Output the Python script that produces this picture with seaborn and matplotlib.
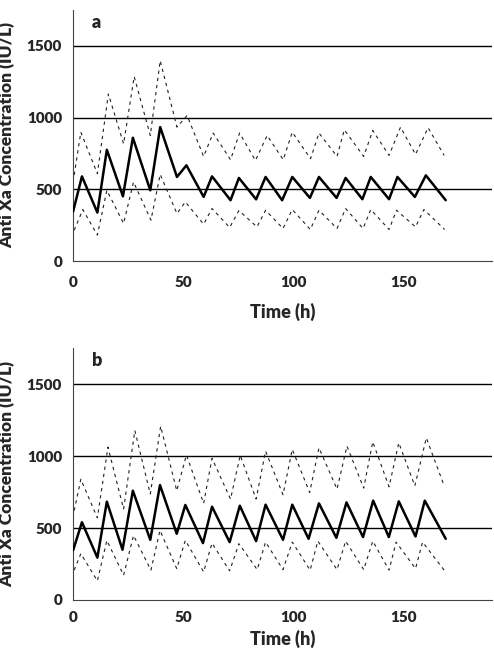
import numpy as np
import pandas as pd
import matplotlib
matplotlib.use("Agg")
import matplotlib.pyplot as plt
import seaborn as sns

# Panel a (peaks / troughs)
a_med_t = [0, 4, 11, 15.3, 22.6, 27.1, 35, 39.5, 47.1, 51.4, 59.2, 63, 71.4, 75.2, 83, 87.3, 94.8, 99.4,
           107.4, 111.5, 119.5, 123.6, 131.2, 135, 143.3, 147.1, 155, 160, 169]
a_med_v = [345, 590, 338, 775, 451, 859, 493, 933, 586, 667, 447, 590, 424, 579, 430, 586, 424, 586,
           440, 586, 440, 579, 431, 586, 431, 586, 447, 597, 424]
a_hi_t = [0.5, 3.5, 11, 16, 22.9, 27.7, 35, 39.5, 47.1, 51.7, 59.2, 63.5, 71.4, 75.5, 82.7, 88, 95.3, 99.4,
          107.7, 111.5, 119.7, 123, 131.8, 135.9, 143.3, 148.5, 155.3, 161, 168.3]
a_hi_v = [600, 898, 609, 1164, 817, 1285, 875, 1396, 933, 1014, 729, 892, 706, 892, 701, 875, 706, 898,
          713, 892, 729, 914, 729, 910, 736, 933, 743, 929, 736]
a_lo_t = [0.5, 4.4, 11, 15.3, 22.9, 27.4, 35.3, 39.5, 47.1, 50.9, 59.2, 63, 71, 75.2, 83.4, 87.3, 95.2, 99.4,
          107.6, 111.5, 119.7, 123.6, 131.5, 135, 143.3, 146.7, 155.3, 159.1, 168.5]
a_lo_v = [215, 359, 181, 493, 262, 551, 285, 604, 331, 412, 257, 366, 234, 352, 238, 354, 227, 359,
          220, 354, 227, 366, 227, 359, 220, 354, 238, 359, 220]

# Panel b
b_med_t = [0, 4, 11, 15.3, 22.4, 27.1, 35, 39.4, 47, 50.9, 58.9, 63, 71, 75.6, 83, 87.3, 95.2, 99.4,
           106.8, 111.5, 119.4, 124, 131.5, 136.1, 143.2, 147.7, 155.3, 159.5, 169]
b_med_v = [345, 540, 294, 683, 349, 759, 418, 798, 460, 660, 395, 648, 402, 655, 409, 662, 418, 662,
           425, 671, 432, 678, 437, 690, 437, 685, 441, 690, 425]
b_hi_t = [0.5, 3.5, 11, 15.8, 22.9, 28, 35, 39.7, 47, 51.4, 59.2, 63, 71.4, 75.8, 83, 87.3, 95.2, 99.4,
          107.3, 111.5, 119.7, 124.2, 131.8, 135.9, 143.3, 147.7, 155, 160.2, 168.3]
b_hi_v = [621, 839, 570, 1062, 632, 1177, 736, 1207, 759, 1007, 671, 984, 701, 1005, 701, 1034, 731, 1046,
          747, 1057, 770, 1069, 777, 1099, 786, 1092, 793, 1126, 793]
b_lo_t = [0.5, 3.5, 11, 15.3, 22.9, 27.4, 35.3, 39.4, 47, 50.9, 59.2, 63, 71, 75.2, 83.5, 87.3, 95.2, 99.4,
          107.5, 111, 119.7, 123.6, 131.8, 135.9, 143.3, 146.5, 155.3, 158.5, 168.3]
b_lo_v = [207, 322, 133, 414, 172, 448, 207, 483, 218, 414, 195, 395, 202, 391, 211, 402, 211, 402,
          207, 409, 211, 409, 211, 409, 207, 402, 218, 402, 207]

panel_labels = ["a", "b"]
ref_levels = [500, 1000, 1500]
x_ticks = [0, 50, 100, 150]
y_ticks = [0, 500, 1000, 1500]

sns.set_style("white")
plt.rcParams["font.family"] = ["Lato", "DejaVu Sans"]

fig = plt.figure(figsize=(4.94, 6.56), dpi=100)
ax_a = fig.add_axes([0.148, 0.602, 0.848, 0.383])
ax_b = fig.add_axes([0.148, 0.0854, 0.848, 0.384])

panels = [
    (ax_a, (a_med_t, a_med_v), (a_hi_t, a_hi_v), (a_lo_t, a_lo_v), 11, 10),
    (ax_b, (b_med_t, b_med_v), (b_hi_t, b_hi_v), (b_lo_t, b_lo_v), 8, 4),
]

for (ax, med, hi, lo, tpad, lpad), lab in zip(panels, panel_labels):
    for lvl in ref_levels:
        ax.axhline(lvl, color="black", lw=1.0, zorder=1)
    for t, v in (hi, lo):
        sns.lineplot(x=t, y=v, ax=ax, color="#222222", lw=0.8, linestyle=(0, (3, 3.5)),
                     estimator=None, sort=False, zorder=2)
    sns.lineplot(x=med[0], y=med[1], ax=ax, color="black", lw=1.8,
                 estimator=None, sort=False, zorder=3)

    ax.set_xlim(0, 190)
    ax.set_ylim(0, 1750)
    ax.set_xticks(x_ticks)
    ax.set_yticks(y_ticks)
    ax.tick_params(axis="x", direction="in", length=6, color="#999999", width=1,
                   labelsize=11, pad=tpad)
    ax.tick_params(axis="y", length=0, labelsize=11, pad=8)
    for tl in ax.get_xticklabels() + ax.get_yticklabels():
        tl.set_fontweight("heavy")
    for s in ["top", "right"]:
        ax.spines[s].set_visible(False)
    ax.spines["left"].set_color("#444444")
    ax.spines["bottom"].set_color("#444444")
    ax.set_xlabel("Time (h)", fontsize=13, fontweight="heavy", labelpad=lpad)
    ax.set_ylabel("Anti Xa Concentration (IU/L)", fontsize=12.5, fontweight="heavy", labelpad=8)
    ax.text(0.045, 0.985, lab, transform=ax.transAxes, fontsize=13, fontweight="heavy",
            va="top", ha="left")

fig.savefig("out.png", dpi=100)
